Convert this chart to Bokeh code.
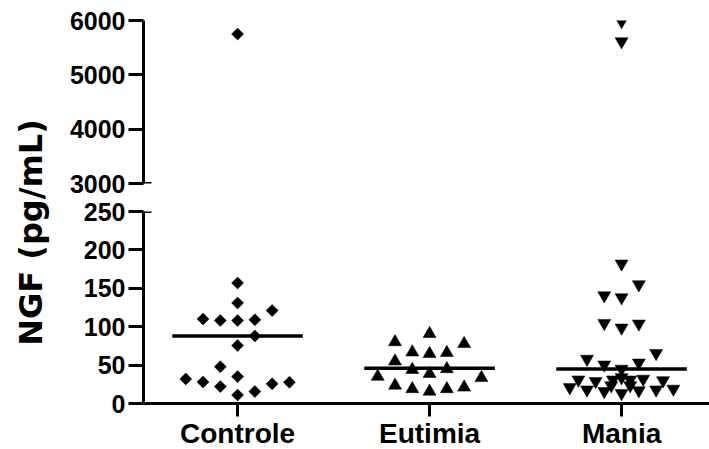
import numpy as np
from bokeh.plotting import figure
from bokeh.models import Range1d, FixedTicker, Label
from bokeh.layouts import row, column
from bokeh.embed import file_html
from bokeh.resources import INLINE

# ---------------- data ----------------
categories = ["Controle", "Eutimia", "Mania"]
cat_pos = [1, 2, 3]

controle = [5750, 157, 131, 110, 108, 108, 109, 121, 88, 75.5, 48, 35, 32, 28, 22, 11, 15.6, 25.6, 27.7]
controle_slot = [0, 0, 0, -2, -1, 0, 1, 2, 1, 0, -1, 0, -3, -2, -1, 0, 1, 2, 3]

eutimia = [90.7, 80, 77.7, 66.8, 64.7, 66, 55, 43.9, 38.7, 45, 35, 33.4, 23.4, 19, 15.6, 19, 21]
eutimia_slot = [0, -2, 2, -1, 0, 1, -2, -1, 0, 1, -3, 3, -2, -1, 0, 1, 2]

mania = [5985, 5614, 182, 155, 140.6, 138, 104.6, 98.5, 103.8,
         65.5, 58, 50.5, 45, 53,
         31, 29, 31, 34, 31, 32, 30,
         21, 18, 16, 13.4, 17, 18, 19,
         23.4, 23.4]
mania_slot = [0, 0, 0, 1, -1, 0, -1, 0, 1,
              2, -2, -1, 0, 1,
              -2.5, -1.5, -0.5, 0, 0.5, 1.25, 2.4,
              -3, -2, -1, 0, 1, 2, 3,
              -0.6, 0.5]

medians = [88, 46, 45]

upper_ticks = [3000, 4000, 5000, 6000]
lower_ticks = [0, 50, 100, 150, 200, 250]

# ---------------- styling ----------------
SLOT = 0.09       # horizontal spacing of scattered points (x units)
MED_W = 0.68      # median bar width (x units)
TICK_FONT = "Liberation Sans"
FRAME_W = 566
LEFT = 85

series = [
    (controle, controle_slot, "square", 8.5, np.pi / 4),
    (eutimia, eutimia_slot, "triangle", 13, 0.0),
    (mania, mania_slot, "inverted_triangle", 13, 0.0),
]

x_range = Range1d(0.51, 3.458)


def style_common(p):
    p.outline_line_color = None
    p.background_fill_color = "white"
    p.border_fill_color = "white"
    p.xgrid.visible = False
    p.ygrid.visible = False


def style_yaxis(ax, ticks, bounds):
    ax.ticker = FixedTicker(ticks=ticks)
    ax.bounds = bounds
    ax.axis_line_width = 3
    ax.axis_line_color = "black"
    ax.major_tick_line_width = 3
    ax.major_tick_line_color = "black"
    ax.major_tick_out = 15
    ax.major_tick_in = 0
    ax.minor_tick_line_color = None
    ax.major_label_standoff = 3
    ax.major_label_text_font = TICK_FONT
    ax.major_label_text_font_style = "bold"
    ax.major_label_text_font_size = "25px"
    ax.major_label_text_color = "black"


def break_mark(p, yval):
    # short inward stub of the axis-break tick (half is clipped by the frame)
    p.rect(x=[x_range.start], y=[yval], width=16, width_units="screen",
           height=3, height_units="screen", fill_color="black", line_color=None)


def draw(p):
    for (cat, (vals, slots, marker, size, ang)) in zip(cat_pos, series):
        xs = cat + np.array(slots) * SLOT
        p.scatter(xs, vals, marker=marker, size=size, angle=ang,
                  fill_color="black", line_color="black", line_width=0.5)
    p.rect(x=cat_pos, y=medians, width=MED_W, height=3.5, height_units="screen",
           fill_color="black", line_color=None)


# upper segment
top = figure(frame_width=FRAME_W, frame_height=163, x_range=x_range,
             y_range=Range1d(upper_ticks[0], upper_ticks[-1]), output_backend="svg",
             toolbar_location=None, x_axis_location=None, min_border_left=LEFT,
             min_border_right=0, min_border_top=20, min_border_bottom=14)
style_common(top)
style_yaxis(top.yaxis[0], upper_ticks, (upper_ticks[0], upper_ticks[-1]))
draw(top)
break_mark(top, upper_ticks[0])

# lower segment
bot = figure(frame_width=FRAME_W, frame_height=192, x_range=x_range,
             y_range=Range1d(lower_ticks[0], lower_ticks[-1]), output_backend="svg",
             toolbar_location=None, min_border_left=LEFT, min_border_right=0,
             min_border_top=14, min_border_bottom=0)
style_common(bot)
style_yaxis(bot.yaxis[0], lower_ticks, (lower_ticks[0], lower_ticks[-1]))
xa = bot.xaxis[0]
xa.ticker = FixedTicker(ticks=cat_pos)
xa.major_label_overrides = {c: n for c, n in zip(cat_pos, categories)}
xa.axis_line_width = 3
xa.axis_line_color = "black"
xa.major_tick_line_width = 3
xa.major_tick_line_color = "black"
xa.major_tick_out = 13
xa.major_tick_in = 0
xa.minor_tick_line_color = None
xa.major_label_standoff = 1
xa.major_label_text_font = TICK_FONT
xa.major_label_text_font_style = "bold"
xa.major_label_text_font_size = "28px"
xa.major_label_text_color = "black"
draw(bot)
break_mark(bot, lower_ticks[-1])

# y-axis title panel
lab = figure(width=58, height=449, output_backend="svg", toolbar_location=None,
             x_axis_location=None, y_axis_location=None, min_border=0,
             x_range=Range1d(0, 1), y_range=Range1d(0, 1))
style_common(lab)
lab.add_layout(Label(x=30, y=217, x_units="screen", y_units="screen",
                     text="NGF (pg/mL)", angle=90, angle_units="deg",
                     text_align="center", text_baseline="middle",
                     text_font="DejaVu Sans", text_font_style="bold",
                     text_font_size="32px", text_color="black"))

layout = row(lab, column(top, bot))

open("out.html", "w").write(file_html(layout, INLINE))
